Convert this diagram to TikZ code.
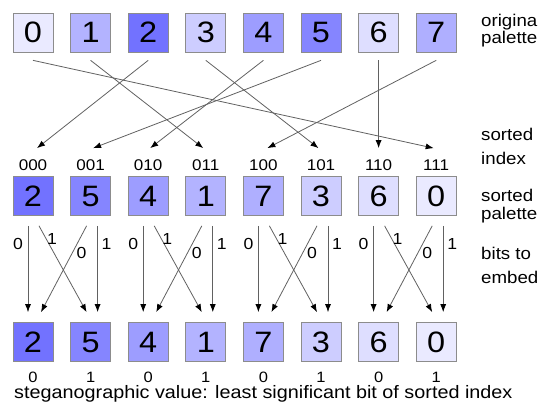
\documentclass[tikz,border=0pt]{standalone}
\usepackage{fontspec}
\setmainfont[FakeStretch=1.1]{Liberation Sans}
\usetikzlibrary{arrows.meta}
\definecolor{p0}{HTML}{EAEAFF}
\definecolor{p1}{HTML}{B3B3FF}
\definecolor{p2}{HTML}{7272FF}
\definecolor{p3}{HTML}{CDCDFF}
\definecolor{p4}{HTML}{9D9DFF}
\definecolor{p5}{HTML}{8585FF}
\definecolor{p6}{HTML}{DEDEFF}
\definecolor{p7}{HTML}{AFAFFF}
\begin{document}
\begin{tikzpicture}[x=1pt,y=-1pt,
  box/.style={draw=black!45, fill=#1, minimum width=40pt, minimum height=39pt, inner sep=0pt, line width=0.7pt, font=\fontsize{29.5}{29.5}\selectfont},
  arr/.style={draw=black!62, line width=0.8pt, -{Latex[length=8pt,width=6pt,color=black]}},
  rlbl/.style={anchor=base west, inner sep=0pt, font=\fontsize{17}{17}\selectfont},
  idx/.style={inner sep=0pt, font=\fontsize{15.5}{15.5}\selectfont},
  bit/.style={inner sep=0pt, font=\fontsize{16}{16}\selectfont},
  lowbit/.style={inner sep=0pt, font=\fontsize{15}{15}\selectfont}]
\useasboundingbox (0,0) rectangle (542,407);
% top row
\foreach \v in {0,...,7}
  \node[box=p\v] (t\v) at ({33+57.6*\v},32.5) {\v};
% sorted row, index labels and bottom row
\foreach \v/\lab [count=\p from 0] in {2/000,5/001,4/010,1/011,7/100,3/101,6/110,0/111} {
  \pgfmathtruncatemacro{\q}{\p}
  \node[box=p\v] (s\q) at ({33+57.6*\q},196) {\v};
  \node[idx] (n\q) at ({33+57.6*\q},165) {\lab};
  \node[box=p\v] (b\q) at ({33+57.6*\q},342) {\v};
}
% bits under bottom row
\foreach \q in {0,...,7} {
  \pgfmathtruncatemacro{\bb}{mod(\q,2)}
  \node[lowbit] (v\q) at ({33+57.6*\q},377) {\bb};
}
% permutation arrows
\foreach \v/\p/\o in {0/7/-2.5,1/3/-2.5,2/0/4,3/5/-2.5,4/2/2,5/1/2.5,6/6/0,7/4/4}
  \draw[arr] ([yshift=-8pt]t\v.south) -- ([xshift=\o pt,yshift=28pt]s\p.north);
% bit embedding arrows
\foreach \k in {0,...,3} {
  \pgfmathtruncatemacro{\L}{2*\k}
  \pgfmathtruncatemacro{\R}{2*\k+1}
  \draw[arr] ([xshift=-5pt,yshift=-10pt]s\L.south) -- ([xshift=-5pt,yshift=10pt]b\L.north);
  \draw[arr] ([xshift=6pt,yshift=-10pt]s\L.south) -- ([xshift=-4pt,yshift=10pt]b\R.north);
  \draw[arr] ([xshift=-4pt,yshift=-10pt]s\R.south) -- ([xshift=8pt,yshift=10pt]b\L.north);
  \draw[arr] ([xshift=7pt,yshift=-10pt]s\R.south) -- ([xshift=7pt,yshift=10pt]b\R.north);
  \node[bit] (a\k) at ([xshift=-15pt,yshift=-28pt]s\L.south) {0};
  \node[bit] (c\k) at ([xshift=19pt,yshift=-23pt]s\L.south) {1};
  \node[bit] (d\k) at ([xshift=-9pt,yshift=-37pt]s\R.south) {0};
  \node[bit] (e\k) at ([xshift=16pt,yshift=-28pt]s\R.south) {1};
}
% right labels
\node[rlbl] (r1) at (481,26) {origina};
\node[rlbl] (r2) at (481,43) {palette};
\node[rlbl] (r3) at (481,140) {sorted};
\node[rlbl] (r4) at (481,164) {index};
\node[rlbl] (r5) at (481,201) {sorted};
\node[rlbl] (r6) at (481,219) {palette};
\node[rlbl] (r7) at (481,259) {bits to};
\node[rlbl] (r8) at (481,283) {embed};
% caption
\node[anchor=base west, inner sep=0pt, font=\fontsize{18}{18}\selectfont] (cap) at (14,398) {steganographic value: least significant bit of sorted index};
\end{tikzpicture}
\end{document}
